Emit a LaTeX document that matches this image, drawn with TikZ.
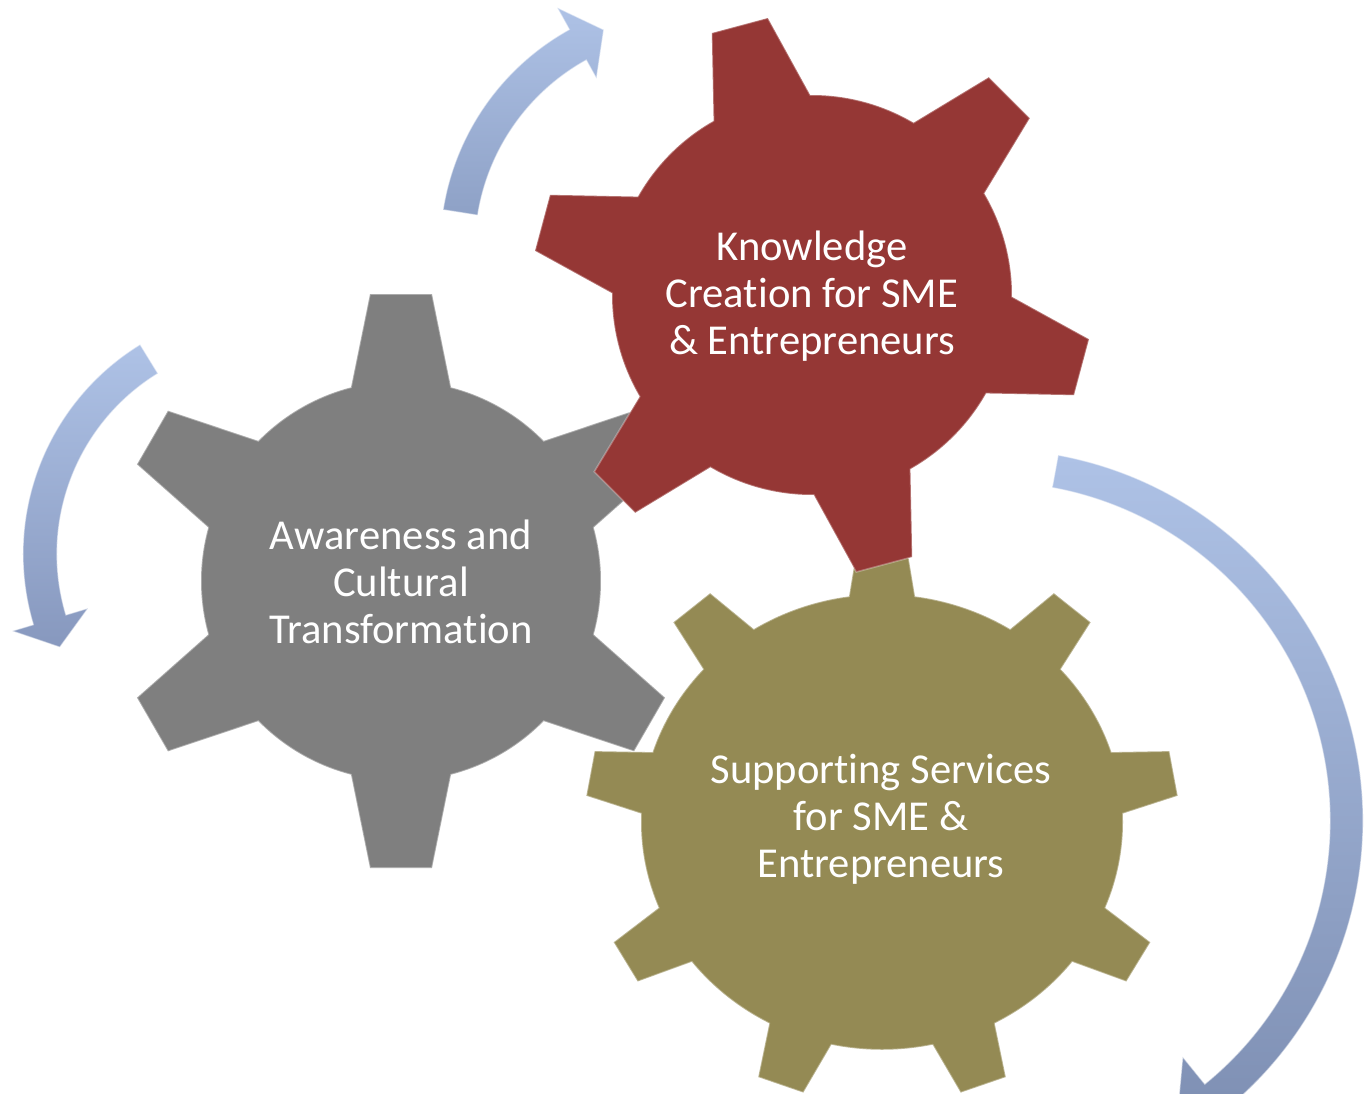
\documentclass[tikz,border=0pt]{standalone}
\usepackage{fontspec}
\setmainfont{Carlito}[Ligatures=CommonOff]
\definecolor{gearGray}{RGB}{127,127,127}
\definecolor{gearRed}{RGB}{149,55,53}
\definecolor{gearOlive}{RGB}{148,138,84}
\definecolor{arrTop}{RGB}{174,194,230}
\definecolor{arrBotA}{RGB}{142,161,198}
\definecolor{arrBotB}{RGB}{135,152,190}
\definecolor{arrBotC}{RGB}{125,142,178}
% #1 style, #2 centre, #3 yscale, #4 teeth, #5 body radius, #6 outer radius,
% #7 half width at base, #8 half width at tip, #9 angle of first tooth
\newcommand{\drawgear}[9]{%
  \pgfmathsetmacro\gA{asin(#7/#5)}%
  \pgfmathsetmacro\gB{atan(#8/#6)}%
  \pgfmathsetmacro\gRt{100*sqrt((#6/100)^2+(#8/100)^2)}%
  \pgfmathsetmacro\gS{360/#4}%
  \pgfmathtruncatemacro\gN{#4-1}%
  \begin{scope}[shift={#2},yscale=#3]
    \path[#1] ({#9-\gA}:#5)
      \foreach \k in {0,...,\gN}{
        -- ({#9+\k*\gS-\gB}:\gRt) -- ({#9+\k*\gS+\gB}:\gRt) -- ({#9+\k*\gS+\gA}:#5)
        arc[start angle={#9+\k*\gS+\gA}, end angle={#9+(\k+1)*\gS-\gA}, radius=#5]
      } -- cycle;
  \end{scope}}
\begin{document}
\begin{tikzpicture}[x=0.5pt,y=-0.5pt,
  gtext/.style={text=white, align=center, font=\fontsize{21.3}{23.5}\selectfont},
  graygear/.style={fill=gearGray, draw=white, draw opacity=0.35, line width=0.8pt},
  redgear/.style={fill=gearRed, draw=white, draw opacity=0.3, line width=0.8pt},
  olivegear/.style={fill=gearOlive, draw=white, draw opacity=0.35, line width=0.8pt},
  arrowshape/.style={top color=arrTop, bottom color=#1, draw=white, draw opacity=0.5, line width=0.6pt}]
\useasboundingbox (0,0) rectangle (1364,1093);
\begin{scope}
  \clip (0,0) rectangle (1364,1093);
  % arrow near top
  \begin{scope}[shift={(691,249)}]
    \path[arrowshape=arrBotA] (-171:251) arc[start angle=-171,end angle=-119,radius=251]
      -- (-119:276) -- (-111.7:236) -- (-119:195) -- (-119:216)
      arc[start angle=-119,end angle=-171,radius=216] -- cycle;
  \end{scope}
  % arrow on the left
  \begin{scope}[shift={(269,554)}]
    \path[arrowshape=arrBotB] (-121.6:246) arc[start angle=-121.6,end angle=-196.7,radius=246]
      -- (-196.7:268) -- (-204:229) -- (-196.7:189) -- (-196.7:212)
      arc[start angle=-196.7,end angle=-121.6,radius=212] -- cycle;
  \end{scope}
  % large arrow on the right
  \begin{scope}[shift={(991,821)}]
    \path[arrowshape=arrBotC] (-79.6:372) arc[start angle=-79.6,end angle=50.9,radius=372]
      -- (50.9:407) -- (58.5:355) -- (50.9:304) -- (50.9:339)
      arc[start angle=50.9,end angle=-79.6,radius=339] -- cycle;
  \end{scope}
\end{scope}
% gears
\drawgear{graygear}{(401,581)}{1}{6}{200}{287}{50}{31}{-90}
\drawgear{olivegear}{(882,822)}{0.945}{9}{241}{296}{33}{24}{-90}
\drawgear{redgear}{(812,295)}{1}{6}{200}{279}{50}{29}{-105}
% texts
\node[gtext] (knowledge) at (812,296) {Knowledge\\Creation for SME\\\& Entrepreneurs};
\node[gtext] (awareness) at (401,582) {Awareness and\\Cultural\\Transformation};
\node[gtext] (support) at (881,819) {Supporting Services\\for SME \&\\Entrepreneurs};
\end{tikzpicture}
\end{document}
